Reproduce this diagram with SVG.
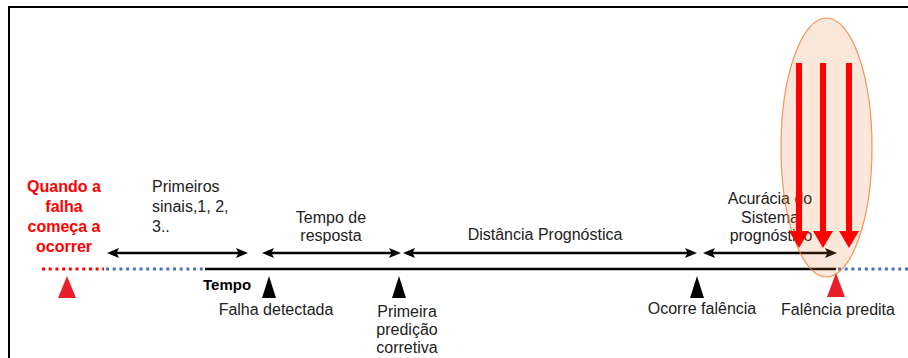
<svg xmlns="http://www.w3.org/2000/svg" width="908" height="358" viewBox="0 0 908 358">
<defs>
<marker id="ah" markerUnits="userSpaceOnUse" markerWidth="14" markerHeight="12" refX="6" refY="5" orient="auto-start-reverse" viewBox="0 0 14 12">
<path d="M0,0 L12,5 L0,10 L2.5,5 z" fill="#000"/>
</marker>
<marker id="rh" markerUnits="userSpaceOnUse" markerWidth="22" markerHeight="22" refX="4" refY="10" orient="auto" viewBox="0 0 22 22">
<path d="M0,0 L17,10 L0,20 z" fill="#ff0000"/>
</marker>
<style>
.t{font-family:"Liberation Sans",Arial,sans-serif;font-size:16px;fill:#222}
.c{text-anchor:middle}
.r{font-family:"Liberation Sans",Arial,sans-serif;font-size:16px;font-weight:bold;fill:#ff0000;text-anchor:middle}
.b{font-family:"Liberation Sans",Arial,sans-serif;font-size:15px;font-weight:bold;fill:#000}
.arr{stroke:#000;stroke-width:2.5;fill:none;marker-start:url(#ah);marker-end:url(#ah)}
.red{stroke:#ff0000;stroke-width:6;fill:none;marker-end:url(#rh)}
.tri{fill:#000}
.rtri{fill:#e8202a}
</style>
</defs>
<path d="M9,358 L9,7 L908,7" fill="none" stroke="#000" stroke-width="2"/>

<g id="timeline">
<line x1="42" y1="269" x2="104" y2="269" stroke="#ff0000" stroke-width="3" stroke-dasharray="3,3.7"/>
<line x1="106" y1="269" x2="205" y2="269" stroke="#4472c4" stroke-width="3" stroke-dasharray="3,3.7"/>
<line x1="205" y1="269" x2="836" y2="269" stroke="#000" stroke-width="2.5"/>
<line x1="838" y1="269" x2="908" y2="269" stroke="#4472c4" stroke-width="3" stroke-dasharray="3,3.7"/>
<text class="b" x="203" y="290">Tempo</text>
</g>

<g id="start">
<polygon class="rtri" points="67,276 58,298 76,298"/>
<text class="r" x="64" y="192">Quando a</text>
<text class="r" x="64" y="212">falha</text>
<text class="r" x="64" y="232">começa a</text>
<text class="r" x="64" y="252">ocorrer</text>
</g>

<g id="falha-detectada">
<polygon class="tri" points="269,276 262,298 276,298"/>
<text class="t c" x="276" y="315">Falha detectada</text>
</g>

<g id="primeira-predicao">
<polygon class="tri" points="399,276 392,298 406,298"/>
<text class="t c" x="407" y="317">Primeira</text>
<text class="t c" x="407" y="335">predição</text>
<text class="t c" x="407" y="353">corretiva</text>
</g>

<g id="ocorre-falencia">
<polygon class="tri" points="697,276 690,298 704,298"/>
<text class="t c" x="702" y="314">Ocorre falência</text>
</g>

<g id="labels">
<text class="t" x="152" y="192">Primeiros</text>
<text class="t" x="152" y="212">sinais,1, 2,</text>
<text class="t" x="152" y="232">3..</text>
<text class="t c" x="331" y="223">Tempo de</text>
<text class="t c" x="331" y="241">resposta</text>
<text class="t c" x="545" y="240">Distância Prognóstica</text>
<text class="t c" x="770" y="204">Acurácia do</text>
<text class="t c" x="770" y="223">Sistema</text>
<text class="t c" x="771" y="241">prognóstico</text>
</g>

<g id="connectors">
<line class="arr" x1="113" y1="253" x2="242" y2="253"/>
<line class="arr" x1="268" y1="253" x2="395" y2="253"/>
<line class="arr" x1="409" y1="253" x2="691" y2="253"/>
<line class="arr" x1="709" y1="253" x2="831" y2="253"/>
</g>

<g id="falencia-predita">
<ellipse cx="826.5" cy="147.5" rx="45.5" ry="129.5" fill="#ed7d31" fill-opacity="0.18" stroke="#ed7d31" stroke-opacity="0.8" stroke-width="1.2"/>
<polygon class="rtri" points="836,273 827,297 845,297"/>
<text class="t c" x="838" y="315">Falência predita</text>
</g>

<g id="red-arrows">
<line class="red" x1="799" y1="63" x2="799" y2="235"/>
<line class="red" x1="823" y1="63" x2="823" y2="235"/>
<line class="red" x1="849" y1="63" x2="849" y2="235"/>
</g>
</svg>
